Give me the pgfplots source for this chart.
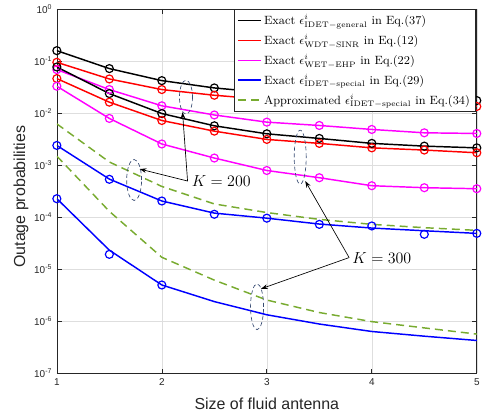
\documentclass[border=0pt]{standalone}
\usepackage{fontspec}
\usepackage{pgfplots}
\pgfplotsset{compat=1.18}
\usetikzlibrary{arrows.meta}
\newfontfamily\arial{Liberation Sans}
\definecolor{mgreen}{rgb}{0.47,0.67,0.19}
\definecolor{mmag}{rgb}{1,0,1}
\definecolor{mred}{rgb}{1,0,0}
\definecolor{mblue}{rgb}{0,0,1}
\definecolor{axgray}{rgb}{0.15,0.15,0.15}
\definecolor{ellc}{rgb}{0.22,0.30,0.45}
\pgfplotsset{simmark/.style={only marks, mark=o, mark size=3pt, forget plot, line width=0.9pt}}
\begin{document}
\begin{tikzpicture}
\begin{axis}[
  scale only axis,
  width=315.75pt, height=274.1pt,
  xmin=1, xmax=5, ymin=1e-7, ymax=1,
  ymode=log, log basis y=10,
  xtick={1,2,3,4,5},
  ytick={1e-7,1e-6,1e-5,1e-4,1e-3,1e-2,1e-1,1},
  yticklabel={10\textsuperscript{\pgfmathparse{int(round(\tick))}\pgfmathresult}},
  /pgf/number format/assume math mode=true,
  ticklabel style={font=\arial\fontsize{7.5}{9}\selectfont, text=axgray},
  xlabel={Size of fluid antenna},
  ylabel={Outage probabilities},
  xlabel style={font=\arial\fontsize{12}{14}\selectfont, text=axgray, at={(axis description cs:0.5,0)}, anchor=center, yshift=-22.5pt},
  ylabel style={font=\arial\fontsize{12}{14}\selectfont, text=axgray, at={(axis description cs:-0.0855,0.485)}, anchor=center},
  grid=both,
  major grid style={black!13, line width=0.4pt},
  minor grid style={black!20, dotted, line width=0.4pt},
  axis line style={axgray, line width=0.5pt},
  tick style={axgray, line width=0.5pt},
  tick align=inside,
  major tick length=3.5pt, minor tick length=2pt,
  legend cell align=left,
  legend style={at={(rel axis cs:0.997,1)}, anchor=north east, font=\fontsize{9}{11}\selectfont, draw=axgray, line width=0.5pt, row sep=1.6pt, inner sep=2pt},
  every axis plot/.append style={line width=1.1pt},
  clip=true,
]
% ===== lines (K = 200) with legend =====
\addplot[black, no marks] coordinates {(1,0.158) (1.5,0.0715) (2,0.042) (2.5,0.0304) (3,0.0246) (3.5,0.0227) (4,0.0202) (4.5,0.0187) (5,0.0174)};
\addlegendentry{Exact $\epsilon^{i}_{\mathrm{IDET-general}}$ in Eq.(37)}
\addplot[mred, no marks] coordinates {(1,0.0944) (1.5,0.0452) (2,0.0283) (2.5,0.022) (3,0.0182) (3.5,0.0162) (4,0.015) (4.5,0.014) (5,0.0134)};
\addlegendentry{Exact $\epsilon^{i}_{\mathrm{WDT-SINR}}$ in Eq.(12)}
\addplot[mmag, no marks] coordinates {(1,0.0684) (1.5,0.0283) (2,0.0138) (2.5,0.0092) (3,0.0067) (3.5,0.00578) (4,0.00485) (4.5,0.00418) (5,0.00406)};
\addlegendentry{Exact $\epsilon^{i}_{\mathrm{WET-EHP}}$ in Eq.(22)}
\addplot[mblue, no marks] coordinates {(1,0.00239) (1.5,0.00054) (2,0.000205) (2.5,0.00012) (3,9.6e-5) (3.5,7.4e-5) (4,6.2e-5) (4.5,5.5e-5) (5,4.9e-5)};
\addlegendentry{Exact $\epsilon^{i}_{\mathrm{IDET-special}}$ in Eq.(29)}
\addplot[mgreen, dash pattern=on 6pt off 3.8pt, no marks] coordinates {(1,0.0062) (1.5,0.00115) (2,0.00039) (2.5,0.00018) (3,0.000123) (3.5,9.1e-5) (4,7.3e-5) (4.5,6.3e-5) (5,5.6e-5)};
\addlegendentry{Approximated $\epsilon^{i}_{\mathrm{IDET-special}}$ in Eq.(34)}
% ===== lines (K = 300) =====
\addplot[black, no marks, forget plot] coordinates {(1,0.0767) (1.5,0.0237) (2,0.0098) (2.5,0.0057) (3,0.004) (3.5,0.00326) (4,0.00262) (4.5,0.00232) (5,0.00215)};
\addplot[mred, no marks, forget plot] coordinates {(1,0.046) (1.5,0.0162) (2,0.0072) (2.5,0.0045) (3,0.00312) (3.5,0.00262) (4,0.00215) (4.5,0.00195) (5,0.00173)};
\addplot[mmag, no marks, forget plot] coordinates {(1,0.0328) (1.5,0.0079) (2,0.00255) (2.5,0.00137) (3,0.00079) (3.5,0.000574) (4,0.000403) (4.5,0.000369) (5,0.000353)};
\addplot[mblue, no marks, forget plot] coordinates {(1,0.000227) (1.5,2.33e-5) (2,5.0e-6) (2.5,2.4e-6) (3,1.34e-6) (3.5,8.9e-7) (4,6.4e-7) (4.5,5.2e-7) (5,4.3e-7)};
\addplot[mgreen, dash pattern=on 6pt off 3.8pt, no marks, forget plot] coordinates {(1,0.00149) (1.5,0.00013) (2,1.7e-5) (2.5,6.2e-6) (3,2.57e-6) (3.5,1.48e-6) (4,9.9e-7) (4.5,7.5e-7) (5,5.7e-7)};
% ===== simulation markers =====
\addplot[black, simmark] coordinates {(1,0.158) (1.5,0.0715) (2,0.042) (2.5,0.0304) (3,0.0246) (3.5,0.0227) (4,0.0202) (4.5,0.0187) (5,0.0174)};
\addplot[mred, simmark] coordinates {(1,0.0944) (1.5,0.0452) (2,0.0283) (2.5,0.022) (3,0.0182) (3.5,0.0162) (4,0.015) (4.5,0.014) (5,0.0134)};
\addplot[mmag, simmark] coordinates {(1,0.0684) (1.5,0.0283) (2,0.0138) (2.5,0.0092) (3,0.0067) (3.5,0.00578) (4,0.00485) (4.5,0.00418) (5,0.00406)};
\addplot[mblue, simmark] coordinates {(1,0.00239) (1.5,0.000535) (2,0.000205) (2.5,0.000114) (3,9.6e-5) (3.5,7.3e-5) (4,6.8e-5) (4.5,4.7e-5) (5,4.9e-5)};
\addplot[black, simmark] coordinates {(1,0.0767) (1.5,0.0237) (2,0.0098) (2.5,0.0057) (3,0.004) (3.5,0.00326) (4,0.00262) (4.5,0.00232) (5,0.00215)};
\addplot[mred, simmark] coordinates {(1,0.046) (1.5,0.0162) (2,0.0072) (2.5,0.0045) (3,0.00312) (3.5,0.00262) (4,0.00215) (4.5,0.00195) (5,0.00173)};
\addplot[mmag, simmark] coordinates {(1,0.0328) (1.5,0.0079) (2,0.00255) (2.5,0.00137) (3,0.00079) (3.5,0.000574) (4,0.000403) (4.5,0.000369) (5,0.000353)};
\addplot[mblue, simmark] coordinates {(1,0.000227) (1.5,1.94e-5) (2,5.0e-6)};
% ===== annotations =====
\draw[ellc, densely dashed, line width=0.5pt] (axis cs:2.23,0.0202) ellipse [x radius=4.9pt, y radius=12.75pt];
\draw[ellc, densely dashed, line width=0.5pt] (axis cs:1.736,5.19e-4) ellipse [x radius=5.6pt, y radius=15.4pt];
\draw[ellc, densely dashed, line width=0.5pt] (axis cs:3.318,1.43e-3) ellipse [x radius=4.5pt, y radius=20.25pt];
\draw[ellc, densely dashed, line width=0.5pt] (axis cs:2.907,1.91e-6) ellipse [x radius=4.9pt, y radius=17.25pt];
\draw[-{Stealth[length=5pt,width=3.5pt]}, line width=0.5pt] (axis cs:2.245,4.96e-4) -- (axis cs:1.789,8.42e-4);
\draw[-{Stealth[length=5pt,width=3.5pt]}, line width=0.5pt] (axis cs:2.245,4.96e-4) -- (axis cs:2.197,0.0104);
\node[anchor=west, inner sep=1pt, font=\fontsize{12}{14}\selectfont] at (axis cs:2.27,4.96e-4) {$K = 200$};
\draw[-{Stealth[length=5pt,width=3.5pt]}, line width=0.5pt] (axis cs:3.784,1.68e-5) -- (axis cs:3.366,4.96e-4);
\draw[-{Stealth[length=5pt,width=3.5pt]}, line width=0.5pt] (axis cs:3.784,1.68e-5) -- (axis cs:2.945,4.23e-6);
\node[anchor=west, inner sep=1pt, font=\fontsize{12}{14}\selectfont] at (axis cs:3.80,1.68e-5) {$K = 300$};
\end{axis}
\path ([xshift=-42.75pt, yshift=-32.25pt]current axis.south west) rectangle ([xshift=4.5pt, yshift=5.6pt]current axis.north east);
\end{tikzpicture}
\end{document}
